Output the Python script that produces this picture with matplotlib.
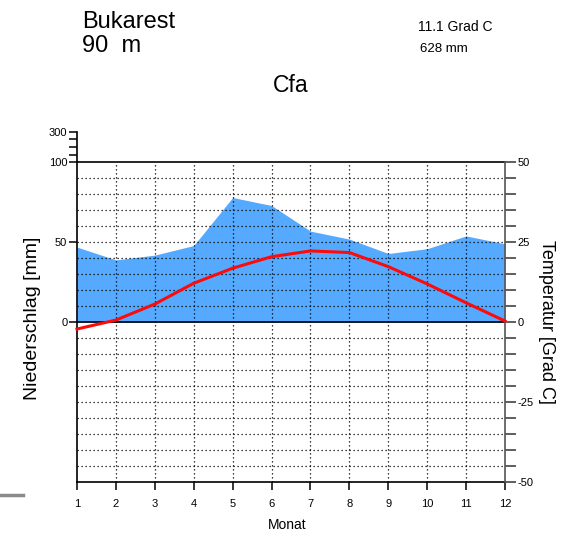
import numpy as np
from matplotlib import pyplot as plt

# climate diagram Bukarest (Walter-Lieth style)
station = 'Bukarest'
height_label = '90  m'
mean_temp_label = '11.1 Grad C'
total_precip_label = '628 mm'
climate_class = 'Cfa'

months = [1, 2, 3, 4, 5, 6, 7, 8, 9, 10, 11, 12]
precip = [47, 39, 42, 48, 78, 73, 57, 52, 43, 46, 54, 49]   # mm
temp = [-2.1, 0.7, 5.7, 12.2, 16.9, 20.5, 22.3, 21.8, 17.4, 12.0, 6.1, 0.4]  # Grad C

# above 100 mm the precipitation scale is compressed
compress = 0.096
top_mm = 100 + (300 - 100) * compress

W, H = 563, 535
plt.rcParams['font.family'] = ['Liberation Sans', 'DejaVu Sans']

fig = plt.figure(figsize=(W / 100, H / 100), dpi=100)
ax_bottom_px = 482.3
ax_h_px = (top_mm + 100) * 1.6
ax = fig.add_axes([77 / W, (H - ax_bottom_px) / H, 428 / W, ax_h_px / H])

ax.set_xlim(1, 12)
ax.set_ylim(-100, top_mm)

# precipitation area
ax.fill_between(months, 0, precip, color='#55aaff', lw=0, zorder=1)

# dotted grid inside the frame
for yv in range(-90, 100, 10):
    if yv == 0:
        continue
    ax.plot([1, 12], [yv, yv], color='black', lw=0.9,
            linestyle=(0, (1, 2.2)), zorder=2)
for m in months[1:-1]:
    ax.plot([m, m], [-100, 100], color='black', lw=0.9,
            linestyle=(0, (1, 2.2)), zorder=2)

# solid lines at 0 and 100 mm
ax.plot([1, 12], [100, 100], color='black', lw=1.2, zorder=3)
ax.plot([1, 12], [0, 0], color='black', lw=1.2, zorder=3)

for s in ['top', 'right']:
    ax.spines[s].set_visible(False)
ax.spines['left'].set_linewidth(1.2)
ax.spines['bottom'].set_linewidth(1.2)

left_ticks = [0, 50, 100] + [100 + v * compress for v in (50, 100, 150, 200)]
left_labels = ['0', '50', '100', '', '', '', '300']
ax.set_yticks(left_ticks)
ax.set_yticklabels(left_labels)
ax.set_xticks(months)
ax.set_xticklabels([str(m) for m in months])
ax.tick_params(axis='y', direction='out', length=6, width=1.1, labelsize=8, pad=1)
ax.tick_params(axis='x', direction='out', length=6, width=1.1, labelsize=8, pad=6)

# temperature axis on the right
ax2 = ax.twinx()
ax2.set_ylim(-50, top_mm / 2)
for s in ['top', 'left', 'bottom']:
    ax2.spines[s].set_visible(False)
ax2.spines['right'].set_bounds(-50, 50)
ax2.spines['right'].set_color('#555555')
ax2.spines['right'].set_linewidth(1.2)
rt = list(range(-50, 55, 5))
ax2.set_yticks(rt)
ax2.set_yticklabels([str(t) if t % 25 == 0 else '' for t in rt])
ax2.tick_params(axis='y', direction='out', length=8, width=1.1, color='#333333',
                labelsize=8, pad=1)

ax2.plot(months, temp, color='#ff0a0a', lw=2.2, zorder=5, clip_on=False)

# texts
fig.text(82 / W, 1 - 28 / H, station, fontsize=17, va='baseline')
fig.text(82 / W, 1 - 52 / H, height_label, fontsize=17, va='baseline')
fig.text(418 / W, 1 - 31 / H, mean_temp_label, fontsize=10, va='baseline')
fig.text(420 / W, 1 - 52 / H, total_precip_label, fontsize=9.5, va='baseline')
fig.text(291 / W, 1 - 92 / H, climate_class, fontsize=16.5, va='baseline', ha='center')

fig.text(33 / W, 1 - 318 / H, 'Niederschlag [mm]', fontsize=14, rotation=90,
         ha='center', va='center')
fig.text(547 / W, 1 - 322 / H, 'Temperatur [Grad C]', fontsize=13, rotation=-90,
         ha='center', va='center')
fig.text(287 / W, 1 - 525 / H, 'Monat', fontsize=10, ha='center', va='center')

# small grey mark at the left edge
fig.add_artist(plt.Line2D([0, 23 / W], [1 - 494.5 / H, 1 - 494.5 / H],
                          color='#8a8a8a', lw=2.5))

fig.savefig('out.png', dpi=100)
